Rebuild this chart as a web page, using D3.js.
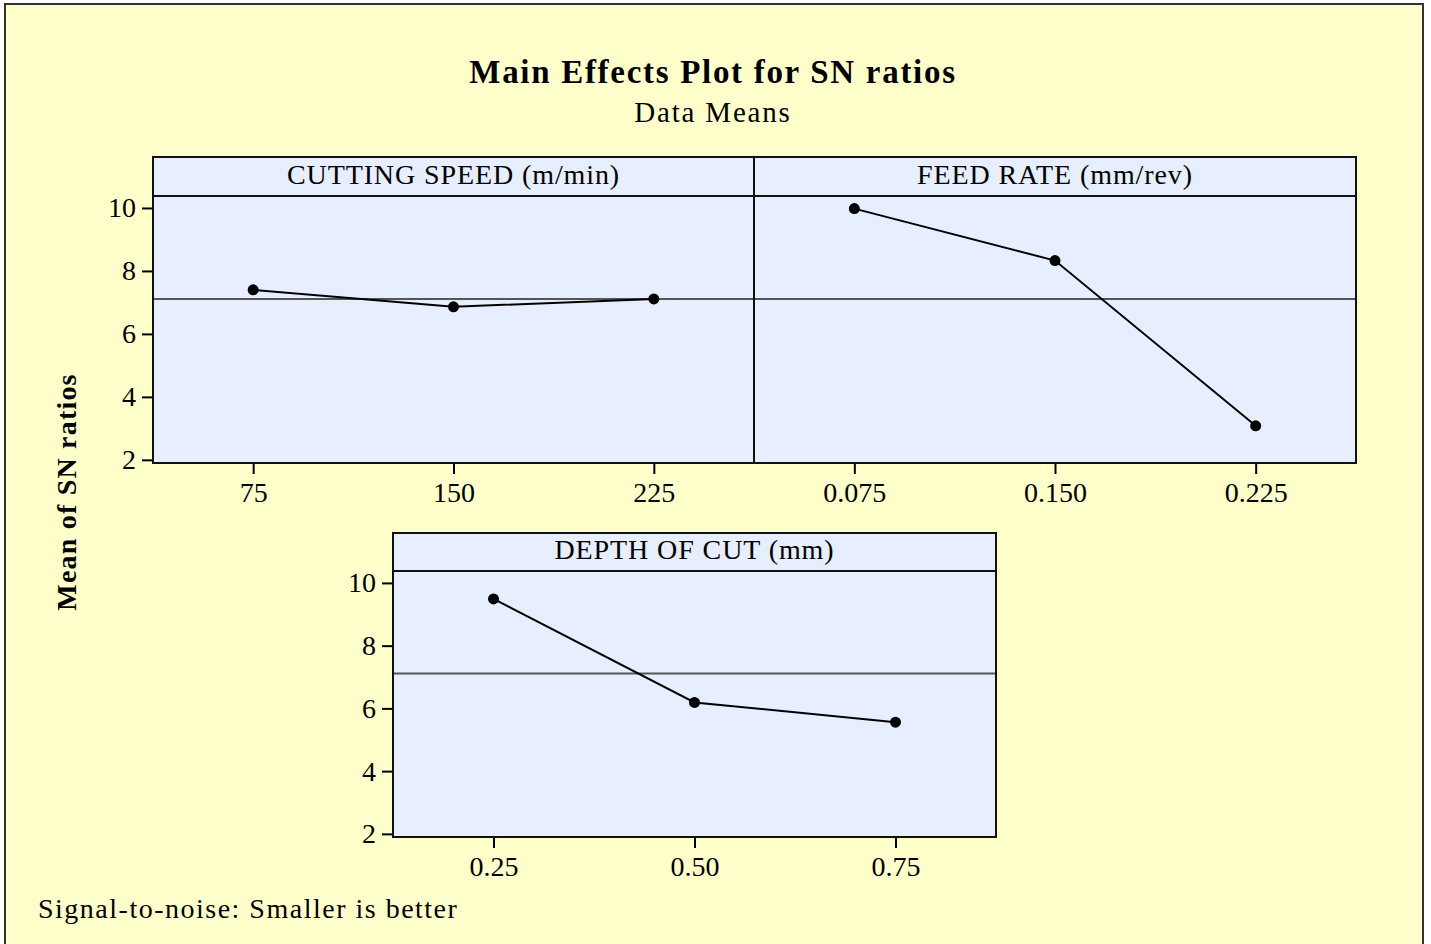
<!DOCTYPE html>
<html>
<head>
<meta charset="utf-8">
<script src="https://cdn.jsdelivr.net/npm/d3@7"></script>
<style>
  body { margin: 0; background: #fff; }
  text { font-family: "Liberation Serif", "Times New Roman", serif; fill: #000; }
</style>
</head>
<body>
<script>
const factors = ["CUTTING SPEED (m/min)", "FEED RATE (mm/rev)", "DEPTH OF CUT (mm)"]
const levelLabels = [["75", "150", "225"], ["0.075", "0.150", "0.225"], ["0.25", "0.50", "0.75"]]
const snMeans = [[7.40, 6.86, 7.11], [9.98, 8.33, 3.08], [9.49, 6.19, 5.56]]
const overallMean = 7.11
const yTicks = [2, 4, 6, 8, 10]

const width = 1431
const height = 944
const yDomain = [1.9, 10.38]

// panel boxes: left, top, strip bottom, right, bottom
const panels = [
  {left: 153, top: 157, strip: 196, right: 754, bottom: 463, yAxis: true},
  {left: 754, top: 157, strip: 196, right: 1356, bottom: 463, yAxis: false},
  {left: 393, top: 533, strip: 571, right: 996, bottom: 837, yAxis: true}
]

const svg = d3.select('body').append('svg')
  .attr('width', width)
  .attr('height', height)

svg.append('rect')
  .attr('x', 5).attr('y', 4)
  .attr('width', 1418).attr('height', 950)
  .attr('fill', '#FFFFCC')
  .attr('stroke', '#333')
  .attr('stroke-width', 2)

svg.append('text')
  .attr('x', 713).attr('y', 83)
  .attr('text-anchor', 'middle')
  .attr('font-size', 33).attr('font-weight', 'bold')
  .attr('letter-spacing', 1.7)
  .text('Main Effects Plot for SN ratios')

svg.append('text')
  .attr('x', 713).attr('y', 122)
  .attr('text-anchor', 'middle')
  .attr('font-size', 29)
  .attr('letter-spacing', 1.8)
  .text('Data Means')

svg.append('text')
  .attr('transform', 'translate(76,492) rotate(-90)')
  .attr('text-anchor', 'middle')
  .attr('font-size', 28).attr('font-weight', 'bold')
  .attr('letter-spacing', 1.2)
  .text('Mean of SN ratios')

svg.append('text')
  .attr('x', 38).attr('y', 918)
  .attr('font-size', 28)
  .attr('letter-spacing', 1.5)
  .text('Signal-to-noise: Smaller is better')

panels.forEach((p, i) => {
  const g = svg.append('g')

  const xScale = d3.scalePoint()
    .domain(levelLabels[i])
    .range([p.left, p.right])
    .padding(0.5)

  const yScale = d3.scaleLinear()
    .domain(yDomain)
    .range([p.bottom, p.strip])

  g.append('rect')
    .attr('x', p.left).attr('y', p.top)
    .attr('width', p.right - p.left).attr('height', p.bottom - p.top)
    .attr('fill', '#E6EEFF')

  // reference line at overall mean
  g.append('line')
    .attr('x1', p.left).attr('x2', p.right)
    .attr('y1', yScale(overallMean)).attr('y2', yScale(overallMean))
    .attr('stroke', '#555').attr('stroke-width', 2)

  const pts = levelLabels[i].map((l, j) => ({level: l, value: snMeans[i][j]}))

  g.append('path')
    .datum(pts)
    .attr('fill', 'none')
    .attr('stroke', '#000')
    .attr('stroke-width', 2)
    .attr('d', d3.line().x(d => xScale(d.level)).y(d => yScale(d.value)))

  g.selectAll('circle')
    .data(pts)
    .join('circle')
    .attr('cx', d => xScale(d.level))
    .attr('cy', d => yScale(d.value))
    .attr('r', 5.5)
    .attr('fill', '#000')

  g.append('line')
    .attr('x1', p.left).attr('x2', p.right)
    .attr('y1', p.strip).attr('y2', p.strip)
    .attr('stroke', '#111').attr('stroke-width', 2)

  g.append('rect')
    .attr('x', p.left).attr('y', p.top)
    .attr('width', p.right - p.left).attr('height', p.bottom - p.top)
    .attr('fill', 'none')
    .attr('stroke', '#111').attr('stroke-width', 2)

  g.append('text')
    .attr('x', (p.left + p.right) / 2)
    .attr('y', p.strip - 12)
    .attr('text-anchor', 'middle')
    .attr('font-size', 28)
    .attr('letter-spacing', 0.9)
    .text(factors[i])

  const xAxis = d3.axisBottom(xScale).tickSize(10).tickPadding(8)
  const xAxisGroup = g.append('g')
    .attr('transform', `translate(0,${p.bottom + 1})`)
    .call(xAxis)
  xAxisGroup.select('.domain').remove()
  xAxisGroup.selectAll('line').attr('stroke', '#000').attr('stroke-width', 2)
  xAxisGroup.selectAll('text').attr('font-size', 28).attr('font-family', null)

  if (p.yAxis) {
    const yAxis = d3.axisLeft(yScale).tickValues(yTicks).tickSize(10).tickPadding(6)
    const yAxisGroup = g.append('g')
      .attr('transform', `translate(${p.left - 1},0)`)
      .call(yAxis)
    yAxisGroup.select('.domain').remove()
    yAxisGroup.selectAll('line').attr('stroke', '#000').attr('stroke-width', 2)
    yAxisGroup.selectAll('text').attr('font-size', 28).attr('font-family', null)
  }
})
</script>
</body>
</html>
